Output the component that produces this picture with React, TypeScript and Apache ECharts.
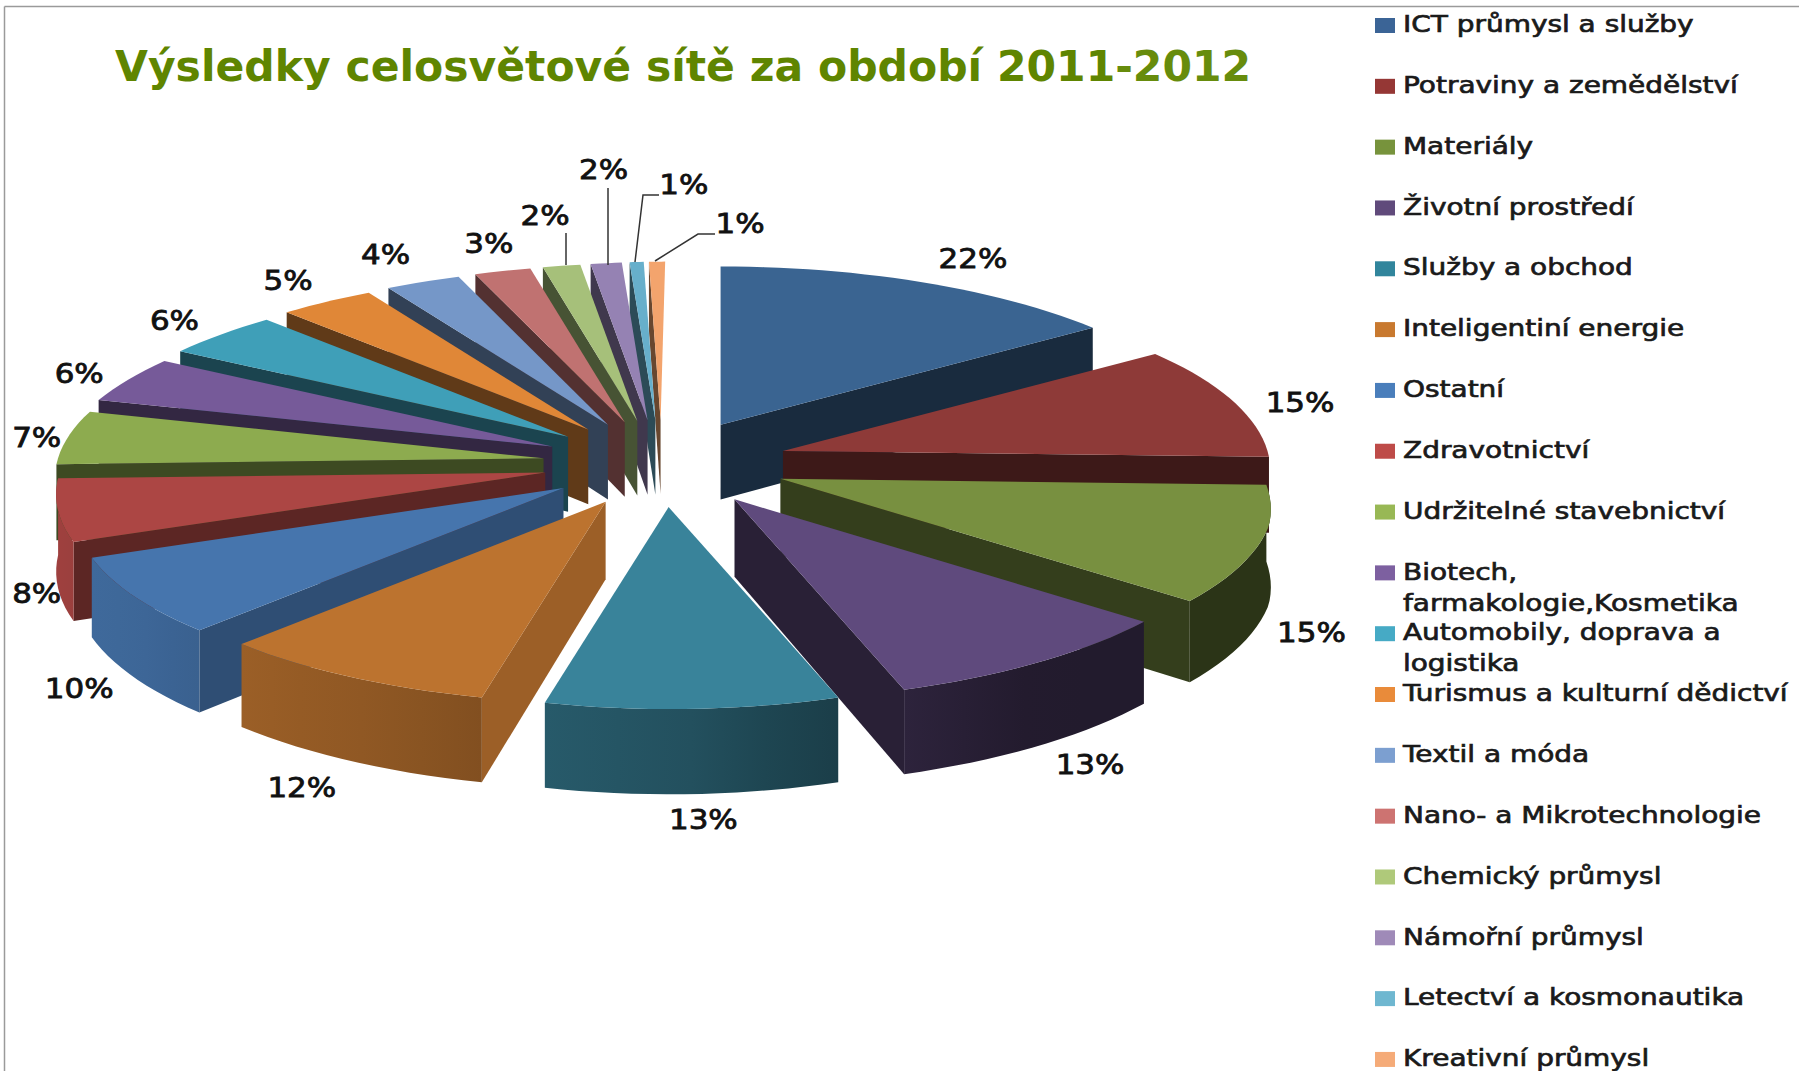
import React, { useEffect, useRef } from "react";
import * as echarts from "echarts";

const categories = [
  "ICT průmysl a služby",
  "Potraviny a zemědělství",
  "Materiály",
  "Životní prostředí",
  "Služby a obchod",
  "Inteligentiní energie",
  "Ostatní",
  "Zdravotnictví",
  "Udržitelné stavebnictví",
  "Biotech,\nfarmakologie,Kosmetika",
  "Automobily, doprava a\nlogistika",
  "Turismus a kulturní dědictví",
  "Textil a móda",
  "Nano- a Mikrotechnologie",
  "Chemický průmysl",
  "Námořní průmysl",
  "Letectví a kosmonautika",
  "Kreativní průmysl",
];
const percentValues = [22, 15, 15, 13, 13, 12, 10, 8, 7, 6, 6, 5, 4, 3, 2, 2, 1, 1];
const topColors = [
  "#3a6491", "#8e3a38", "#789040", "#5f4a7d", "#39839a", "#bc732f",
  "#4675ad", "#ac4644", "#8dab4f", "#765a99", "#3f9fb8", "#e08737",
  "#7597c8", "#c07271", "#a6c07a", "#9582b3", "#67afcb", "#f3a46d",
];
const legendColors = [
  "#3b6496", "#953735", "#77933c", "#604a7b", "#31859c", "#c8792f",
  "#4a7ebb", "#be4b48", "#98b855", "#7d60a0", "#46aac5", "#e98b3a",
  "#7c9fd0", "#cd7371", "#afc97a", "#9f8ab8", "#6fb7d0", "#f5ab78",
];
// label anchor (centre) in reference-view units, one per slice
const labelAnchors = [
  [848, 226], [1133, 351], [1143, 552], [950, 667], [613, 715], [263, 687],
  [69, 600], [32, 518], [32, 382], [69, 326], [152, 280], [251, 245],
  [336, 222], [426, 213], [475, 188], [526, 148], [596, 161], [645, 195],
];
const leaderLines = [
  [[566, 233], [566, 265]],
  [[608, 188], [608, 265]],
  [[659, 195], [643, 195], [635, 262]],
  [[715, 234], [698, 234], [655, 261]],
];
// small correction of the projected rim, as [angle, x shift]
const rimShift = [
  [0, 0], [54, 8], [92, 2], [105, 6], [129, 4], [161, -3], [193, 4], [223, -1],
  [248, -2], [268, -3], [285, -5], [300, 0], [315, 5], [327, 8], [337, 10],
  [345, 12], [352, 14], [357, 6], [360, 4],
];

const S = 1.1474;
const CX = 578, CY = 404, EX = 105, EY = 38;
const DEG = Math.PI / 180;
const TEXT_STRETCH = 1.19;

const rxAt = (t: number) => 420 - 55 * Math.cos(t * DEG);
const ryAt = (t: number) => 157 - 19 * Math.cos(t * DEG);
const depthAt = (y: number) => 65 + ((y - 370) / 240) * 9;
const shiftAt = (t: number) => {
  for (let i = 1; i < rimShift.length; i++) {
    const [a0, s0] = rimShift[i - 1];
    const [a1, s1] = rimShift[i];
    if (t <= a1) return s0 + ((t - a0) / (a1 - a0)) * (s1 - s0);
  }
  return 0;
};

function shadeHex(hex: string, f: number) {
  const n = parseInt(hex.slice(1), 16);
  const c = [(n >> 16) & 255, (n >> 8) & 255, n & 255].map((v) => Math.round(v * f));
  return `rgb(${c[0]},${c[1]},${c[2]})`;
}
const wallFactor = (t: number) => {
  const s = Math.sin(t * DEG);
  return s > 0 ? Math.max(0.36, 0.62 - 0.45 * s) : 0.62 - 0.3 * s;
};
const edgeFactor = (t: number) =>
  t > 185 && t < 268 ? 0.85 - ((t - 190) / 78) * 0.42 : 0.43;

const total = percentValues.reduce((a, b) => a + b, 0);
let acc = 0;
const slices = percentValues.map((value, index) => {
  const start = acc;
  acc += (value / total) * 360;
  return { index, name: categories[index], value, start, end: acc, mid: (start + acc) / 2 };
});
// far slices are painted first, near slices last
const paintOrder = [...slices].sort((a, b) => -Math.cos(a.mid * DEG) + Math.cos(b.mid * DEG));

function sliceGroup(sl: (typeof slices)[number]) {
  const top = topColors[sl.index];
  const sm = Math.sin(sl.mid * DEG);
  const ax = CX + EX * sm + (sm > 0 ? 4 * sm : 0);
  const ay = CY - EY * Math.cos(sl.mid * DEG);
  const rim = (t: number) => [
    ax + rxAt(t) * Math.sin(t * DEG) + shiftAt(t),
    ay - ryAt(t) * Math.cos(t * DEG),
  ];
  const drop = (p: number[]) => [p[0], p[1] + depthAt(p[1])];
  const px = (p: number[]) => [p[0] * S, p[1] * S];
  const steps = Math.max(4, Math.ceil((sl.end - sl.start) / 2));
  const arc: number[][] = [];
  for (let i = 0; i <= steps; i++) arc.push(rim(sl.start + ((sl.end - sl.start) * i) / steps));
  const apex = [ax, ay];
  const children: any[] = [];
  const poly = (points: number[][], fill: any) =>
    children.push({
      type: "polygon",
      shape: { points: points.map(px) },
      style: { fill, stroke: "none" },
    });
  // radial faces
  if (Math.sin(sl.start * DEG) < 0) {
    poly([apex, arc[0], drop(arc[0]), drop(apex)], shadeHex(top, edgeFactor(sl.start)));
  }
  if (Math.sin(sl.end * DEG) > 0) {
    const e = arc[arc.length - 1];
    poly([apex, e, drop(e), drop(apex)], shadeHex(top, edgeFactor(sl.end)));
  }
  // outer wall where it faces the viewer
  const wallArc: number[][] = [];
  const wallT: number[] = [];
  for (let i = 0; i <= steps; i++) {
    const t = sl.start + ((sl.end - sl.start) * i) / steps;
    if (t >= 90 && t <= 270) {
      wallArc.push(arc[i]);
      wallT.push(t);
    }
  }
  if (wallArc.length > 1) {
    const n = wallT.length - 1;
    const stops = [0, 0.25, 0.5, 0.75, 1].map((o) => {
      const t = wallT[Math.round(o * n)];
      return { offset: o, color: shadeHex(top, wallFactor(t)) };
    });
    // arc runs clockwise; on the front that means right to left
    const grad = new echarts.graphic.LinearGradient(1, 0, 0, 0, stops);
    poly([...wallArc, ...wallArc.slice().reverse().map(drop)], grad);
  }
  // top face
  poly([apex, ...arc], top);
  return { type: "group", children };
}

const LABEL_FONT = "'DejaVu Sans', sans-serif";

export default function App() {
  const ref = useRef<HTMLDivElement>(null);
  useEffect(() => {
    document.body.style.margin = "0";
    const chart = echarts.init(ref.current!, undefined, { renderer: "svg" });
    const legendGraphics: any[] = [];
    categories.forEach((c, i) => {
      const yc = 25.5 + i * 60.82;
      const twoLines = c.includes("\n");
      const lh = twoLines ? 31 : 24;
      legendGraphics.push({
        type: "rect",
        shape: { x: 1375, y: yc - 7.5, width: 20, height: 15 },
        style: { fill: legendColors[i] },
        silent: true,
      });
      legendGraphics.push({
        type: "text",
        x: 1403,
        y: yc - 1.5 - lh / 2,
        scaleX: TEXT_STRETCH,
        style: {
          text: c,
          fontFamily: LABEL_FONT,
          fontSize: 23.5,
          lineHeight: lh,
          fill: "#1a1a1a",
          stroke: "#1a1a1a",
          lineWidth: 0.7,
          verticalAlign: "top",
          align: "left",
        },
        silent: true,
      });
    });
    const labelGraphics: any[] = percentValues.map((v, i) => ({
      type: "text",
      x: labelAnchors[i][0] * S,
      y: labelAnchors[i][1] * S,
      scaleX: TEXT_STRETCH,
      style: {
        text: `${v}%`,
        fontFamily: LABEL_FONT,
        fontSize: 26,
        fill: "#111",
        stroke: "#111",
        lineWidth: 0.8,
        align: "center",
        verticalAlign: "middle",
      },
      silent: true,
      z: 10,
    }));
    const leaderGraphics: any[] = leaderLines.map((pts) => ({
      type: "polyline",
      shape: { points: pts },
      style: { stroke: "#333", lineWidth: 1.5, fill: "none" },
      silent: true,
      z: 10,
    }));
    chart.setOption({
      animation: false,
      backgroundColor: "#ffffff",
      title: {
        left: 110,
        top: 40,
        text: "{a|Výsledky celosvětové sítě za období 2011}{b|-2012}",
        textStyle: {
          rich: {
            a: { fontFamily: LABEL_FONT, fontWeight: "bold", fontSize: 42.5, color: "#5f8500" },
            b: { fontFamily: LABEL_FONT, fontWeight: "bold", fontSize: 42.5, color: "#678c0c" },
          },
        },
      },
      series: [
        {
          type: "custom",
          coordinateSystem: "none",
          silent: true,
          data: paintOrder.map((s) => ({ name: s.name, value: s.value })),
          renderItem: (params: any) => sliceGroup(paintOrder[params.dataIndex]),
        },
      ],
      graphic: [
        {
          type: "line",
          shape: { x1: 4.5, y1: 6.5, x2: 1799, y2: 6.5 },
          style: { stroke: "#9a9a9a", lineWidth: 1.5 },
          silent: true,
        },
        {
          type: "line",
          shape: { x1: 4.5, y1: 6.5, x2: 4.5, y2: 1071 },
          style: { stroke: "#9a9a9a", lineWidth: 1.5 },
          silent: true,
        },
        ...legendGraphics,
        ...labelGraphics,
        ...leaderGraphics,
      ],
    });
    return () => chart.dispose();
  }, []);
  return (
    <div
      ref={ref}
      style={{ position: "absolute", left: 0, top: 0, width: 1799, height: 1071 }}
    />
  );
}
